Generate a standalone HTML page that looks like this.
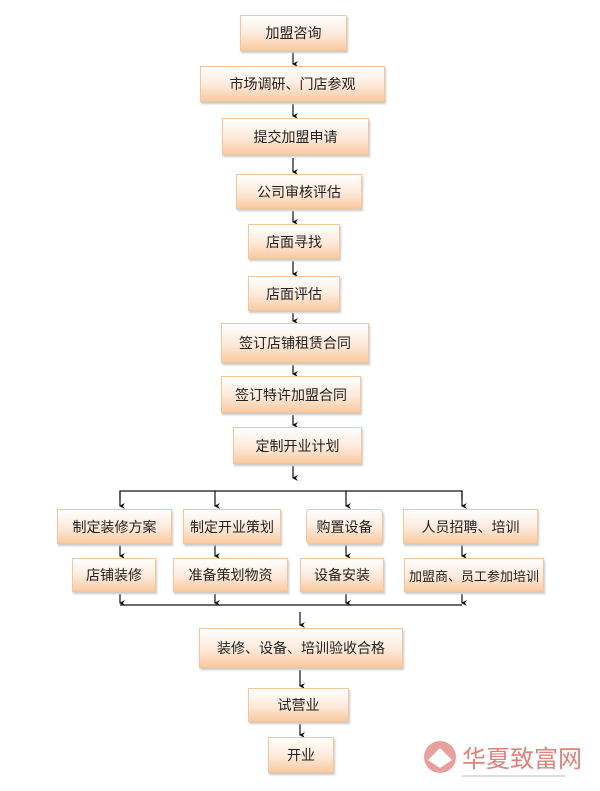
<!DOCTYPE html>
<html><head><meta charset="utf-8"><style>
body{margin:0;width:600px;height:791px;background:#fff;position:relative;overflow:hidden;font-family:"Liberation Sans","Noto Sans CJK SC",sans-serif}
.b{position:absolute;box-sizing:border-box;border:1px solid #f4c49c;background:linear-gradient(#fff 0%,#fde9d9 55%,#f9caa0 100%);box-shadow:1px 2px 2px #c8c8c8;display:flex;align-items:center;justify-content:center;font-size:14px;color:#222;white-space:nowrap}
svg{position:absolute;left:0;top:0}
</style></head><body>
<svg width="600" height="791">
<defs><marker id="a" markerWidth="6" markerHeight="6" refX="3" refY="5" orient="auto-start-reverse" markerUnits="userSpaceOnUse"><path d="M0,0 L3,6 L6,0 L3,2z" fill="#111"/></marker></defs>
<g stroke="#111" stroke-width="1.2" fill="none">
<line x1="293" y1="52" x2="293" y2="64" marker-end="url(#a)"/>
<line x1="293" y1="104" x2="293" y2="116" marker-end="url(#a)"/>
<line x1="293" y1="158" x2="293" y2="172" marker-end="url(#a)"/>
<line x1="293" y1="211" x2="293" y2="222" marker-end="url(#a)"/>
<line x1="293" y1="261" x2="293" y2="274" marker-end="url(#a)"/>
<line x1="293" y1="313" x2="293" y2="321" marker-end="url(#a)"/>
<line x1="293" y1="365" x2="293" y2="374" marker-end="url(#a)"/>
<line x1="293" y1="415" x2="293" y2="425" marker-end="url(#a)"/>
<line x1="293" y1="466" x2="293" y2="478" marker-end="url(#a)"/>
<polyline points="120,500 120,491 462,491 462,500"/>
<line x1="120" y1="491" x2="120" y2="506" marker-end="url(#a)"/>
<line x1="215" y1="491" x2="215" y2="506" marker-end="url(#a)"/>
<line x1="346" y1="491" x2="346" y2="506" marker-end="url(#a)"/>
<line x1="462" y1="491" x2="462" y2="506" marker-end="url(#a)"/>
<line x1="120" y1="545" x2="120" y2="556" marker-end="url(#a)"/>
<line x1="215" y1="545" x2="215" y2="556" marker-end="url(#a)"/>
<line x1="346" y1="545" x2="346" y2="556" marker-end="url(#a)"/>
<line x1="462" y1="545" x2="462" y2="556" marker-end="url(#a)"/>
<line x1="120" y1="594" x2="120" y2="603" marker-end="url(#a)"/>
<line x1="215" y1="594" x2="215" y2="603" marker-end="url(#a)"/>
<line x1="346" y1="594" x2="346" y2="603" marker-end="url(#a)"/>
<line x1="462" y1="594" x2="462" y2="603" marker-end="url(#a)"/>
<polyline points="120,605 462,605"/>
<line x1="300" y1="612" x2="300" y2="625" marker-end="url(#a)"/>
<line x1="300" y1="670" x2="300" y2="686" marker-end="url(#a)"/>
<line x1="300" y1="724" x2="300" y2="735" marker-end="url(#a)"/>
</g>
<circle cx="440" cy="757" r="16" fill="#e8a19a"/>
<path d="M428,760 L440,748 L452,760 L440,768z" fill="#fff"/>
<text x="462" y="767" font-size="24" fill="#e0817b" font-family="Noto Sans CJK SC,sans-serif">华夏致富网</text>
<line x1="462" y1="776" x2="565" y2="776" stroke="#bbb"/>
</svg>
<div class="b" style="left:240px;top:15px;width:107px;height:36px">加盟咨询</div>
<div class="b" style="left:200px;top:66px;width:185px;height:36px">市场调研、门店参观</div>
<div class="b" style="left:222px;top:118px;width:147px;height:37px">提交加盟申请</div>
<div class="b" style="left:236px;top:174px;width:126px;height:35px">公司审核评估</div>
<div class="b" style="left:248px;top:224px;width:92px;height:35px">店面寻找</div>
<div class="b" style="left:248px;top:276px;width:92px;height:35px">店面评估</div>
<div class="b" style="left:221px;top:323px;width:148px;height:40px">签订店铺租赁合同</div>
<div class="b" style="left:221px;top:376px;width:140px;height:37px">签订特许加盟合同</div>
<div class="b" style="left:233px;top:427px;width:129px;height:37px">定制开业计划</div>
<div class="b" style="left:57px;top:509px;width:115px;height:35px">制定装修方案</div>
<div class="b" style="left:183px;top:509px;width:98px;height:35px">制定开业策划</div>
<div class="b" style="left:306px;top:509px;width:77px;height:35px;border-radius:4px">购置设备</div>
<div class="b" style="left:403px;top:509px;width:135px;height:35px">人员招聘、培训</div>
<div class="b" style="left:72px;top:558px;width:84px;height:34px">店铺装修</div>
<div class="b" style="left:173px;top:558px;width:115px;height:34px">准备策划物资</div>
<div class="b" style="left:300px;top:558px;width:84px;height:34px">设备安装</div>
<div class="b" style="left:404px;top:558px;width:140px;height:34px;font-size:13px">加盟商、员工参加培训</div>
<div class="b" style="left:199px;top:628px;width:204px;height:40px">装修、设备、培训验收合格</div>
<div class="b" style="left:248px;top:688px;width:101px;height:34px">试营业</div>
<div class="b" style="left:268px;top:737px;width:66px;height:36px">开业</div>
</body></html>
